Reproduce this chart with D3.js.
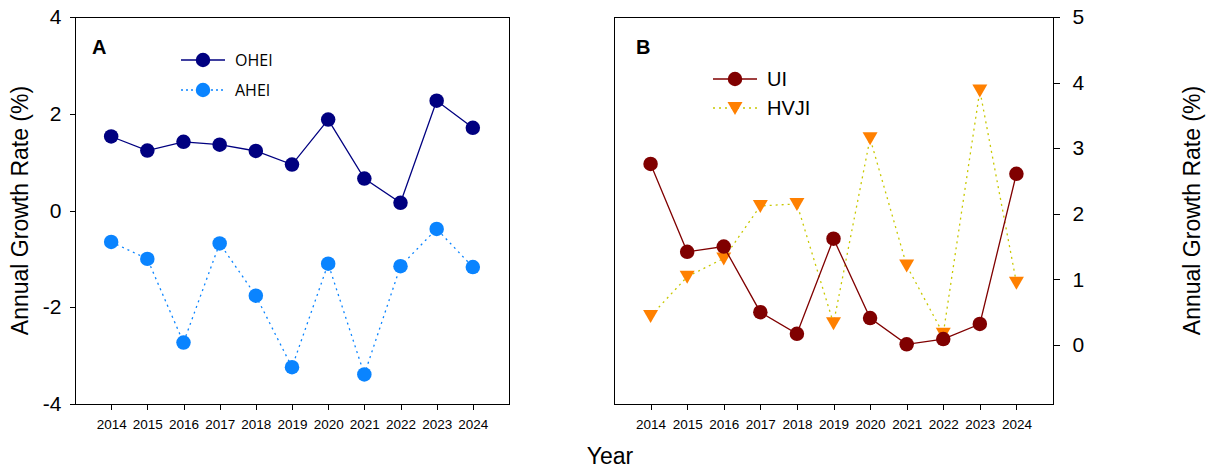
<!DOCTYPE html>
<html lang="en">
<head>
  <meta charset="UTF-8" />
  <title>Annual Growth Rate</title>
  <script src="https://d3js.org/d3.v7.min.js"></script>
  <style>
    body { margin: 0; background: #fff; }
    svg { display: block; font-family: "Liberation Sans", Arial, sans-serif; }
    .axis path, .axis line { stroke: #000; shape-rendering: crispEdges; }
  </style>
</head>
<body>
<script>
  // data
  var years = [2014, 2015, 2016, 2017, 2018, 2019, 2020, 2021, 2022, 2023, 2024];
  var ohei = [1.53, 1.24, 1.42, 1.36, 1.23, 0.95, 1.88, 0.66, 0.16, 2.27, 1.71];
  var ahei = [-0.65, -1.0, -2.73, -0.68, -1.76, -3.24, -1.10, -3.39, -1.15, -0.38, -1.17];
  var ui = [2.76, 1.42, 1.50, 0.50, 0.17, 1.62, 0.41, 0.01, 0.09, 0.32, 2.61];
  var hvji = [0.44, 1.04, 1.32, 2.12, 2.15, 0.33, 3.15, 1.21, 0.17, 3.88, 0.95];
  var leftTicks = [-4, -2, 0, 2, 4];
  var rightTicks = [0, 1, 2, 3, 4, 5];

  var svg = d3.select("body").append("svg")
    .attr("width", 1212).attr("height", 472);

  var plotTop = 17, plotBottom = 404;
  var plain = function (d) { return String(d); };

  function yearAxis(g, x) {
    g.attr("class", "axis")
      .attr("transform", "translate(0," + plotBottom + ")")
      .call(d3.axisBottom(x).tickValues(years).tickFormat(plain).tickSize(6).tickSizeOuter(0))
      .call(function (s) { s.select(".domain").remove(); })
      .selectAll("text").attr("dy", "1.15em").style("font-size", "13.5px");
  }

  function frame(x0, x1) {
    svg.append("rect")
      .attr("x", x0 + 0.5).attr("y", plotTop + 0.5)
      .attr("width", x1 - x0).attr("height", plotBottom - plotTop)
      .attr("fill", "none").attr("stroke", "#000").attr("stroke-width", 1);
  }

  function series(x, y, vals, lineColor, dash, markColor, shape) {
    var pts = years.map(function (yr, i) { return [x(yr), y(vals[i])]; });
    svg.append("path")
      .attr("d", d3.line()(pts))
      .attr("fill", "none").attr("stroke", lineColor).attr("stroke-width", 1.3)
      .attr("stroke-dasharray", dash);
    svg.append("g").selectAll("path").data(pts).enter().append("path")
      .attr("transform", function (d) { return "translate(" + d[0] + "," + d[1] + ")"; })
      .attr("d", shape)
      .attr("fill", markColor);
  }

  var circle = d3.symbol().type(d3.symbolCircle).size(165)();
  var triDown = "M-7.5,-6L7.5,-6L0,7Z";

  function legendItem(x0, x1, y, lineColor, dash, markColor, shape, label, fontFamily, fontSize) {
    svg.append("line")
      .attr("x1", x0).attr("x2", x1).attr("y1", y).attr("y2", y)
      .attr("stroke", lineColor).attr("stroke-width", 1.3).attr("stroke-dasharray", dash);
    svg.append("path")
      .attr("transform", "translate(" + ((x0 + x1) / 2) + "," + y + ")")
      .attr("d", shape).attr("fill", markColor);
    svg.append("text")
      .attr("x", x1 + 10).attr("y", y).attr("dy", "0.35em")
      .style("font-family", fontFamily).style("font-size", fontSize)
      .text(label);
  }

  // ---------- Panel A ----------
  var xA = d3.scaleLinear().domain([2013, 2025]).range([75, 509]);
  var yA = d3.scaleLinear().domain([-4, 4]).range([plotBottom, plotTop]);

  frame(75, 509);
  svg.append("g").call(yearAxis, xA);
  svg.append("g").attr("class", "axis")
    .attr("transform", "translate(75.5,0)")
    .call(d3.axisLeft(yA).tickValues(leftTicks).tickFormat(plain).tickSize(6).tickSizeOuter(0).tickPadding(8))
    .call(function (s) { s.select(".domain").remove(); })
    .selectAll("text").style("font-size", "21px");

  series(xA, yA, ahei, "#0a84ff", "2,4", "#0a84ff", circle);
  series(xA, yA, ohei, "#000080", null, "#000080", circle);

  svg.append("text").attr("x", 92).attr("y", 54)
    .style("font-size", "20px").style("font-weight", "bold").text("A");
  legendItem(181, 225, 60, "#000080", null, "#000080", circle, "OHEI", "'Open Sans', sans-serif", "16px");
  legendItem(181, 225, 90, "#0a84ff", "2,3", "#0a84ff", circle, "AHEI", "'Open Sans', sans-serif", "16px");

  svg.append("text")
    .attr("transform", "translate(28," + ((plotTop + plotBottom) / 2) + ") rotate(-90)")
    .attr("text-anchor", "middle")
    .style("font-size", "23px")
    .text("Annual Growth Rate (%)");

  // ---------- Panel B ----------
  var xB = d3.scaleLinear().domain([2013, 2025]).range([614, 1053]);
  var yB = d3.scaleLinear().domain([-0.9, 5]).range([plotBottom, plotTop]);

  frame(614, 1053);
  svg.append("g").call(yearAxis, xB);
  svg.append("g").attr("class", "axis")
    .attr("transform", "translate(1053.5,0)")
    .call(d3.axisRight(yB).tickValues(rightTicks).tickFormat(plain).tickSize(6).tickSizeOuter(0).tickPadding(13))
    .call(function (s) { s.select(".domain").remove(); })
    .selectAll("text").style("font-size", "21px");

  series(xB, yB, hvji, "#c8c800", "2,4", "#ff8000", triDown);
  series(xB, yB, ui, "#800000", null, "#800000", circle);

  svg.append("text").attr("x", 636).attr("y", 54)
    .style("font-size", "20px").style("font-weight", "bold").text("B");
  legendItem(713, 757, 79, "#800000", null, "#800000", circle, "UI", "'Liberation Sans', Arial, sans-serif", "20px");
  legendItem(713, 757, 108, "#c8c800", "2,4", "#ff8000", triDown, "HVJI", "'Liberation Sans', Arial, sans-serif", "20px");

  svg.append("text")
    .attr("transform", "translate(1200," + ((plotTop + plotBottom) / 2) + ") rotate(-90)")
    .attr("text-anchor", "middle")
    .style("font-size", "23px")
    .text("Annual Growth Rate (%)");

  svg.append("text")
    .attr("x", 610).attr("y", 464)
    .attr("text-anchor", "middle")
    .style("font-size", "23px")
    .text("Year");
</script>
</body>
</html>
